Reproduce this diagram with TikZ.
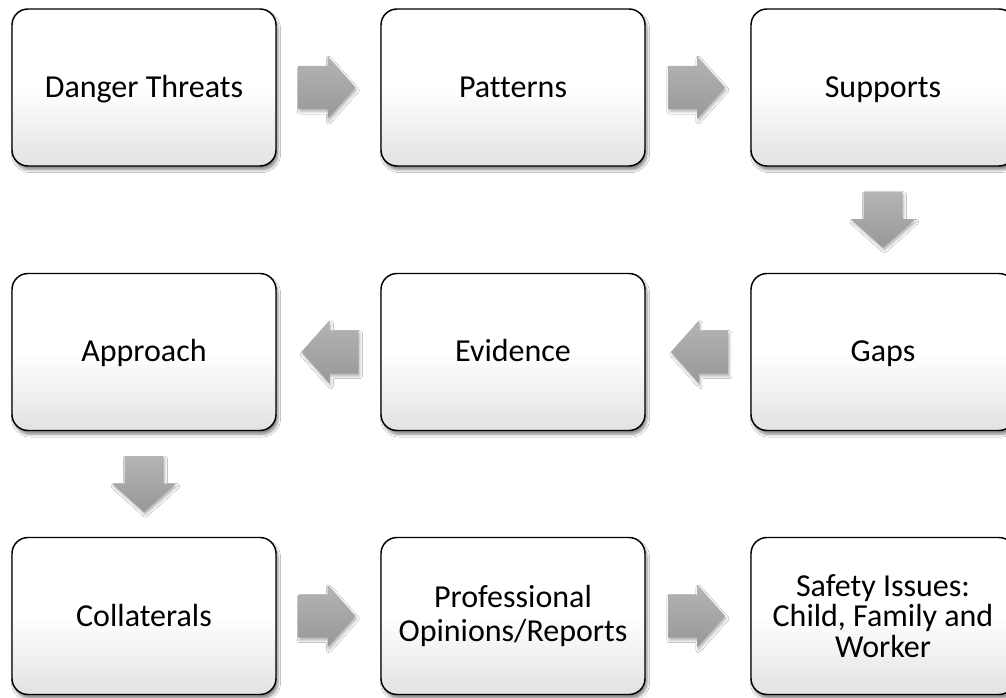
\documentclass[tikz,border=0pt]{standalone}
\usepackage{fontspec}
\setmainfont{Carlito}[Ligatures=CommonOff]
\usetikzlibrary{calc,shadows.blur}
\definecolor{arrtop}{HTML}{B4B4B4}
\definecolor{arrbot}{HTML}{989898}
\definecolor{boxbot}{HTML}{E2E2E2}
\tikzset{
  stepbox/.style={draw=black, line width=1.1pt, rounded corners=12pt,
    minimum width=198pt, minimum height=117.75pt, align=center,
    top color=white, bottom color=boxbot, middle color=white,
    font=\fontsize{24}{23}\selectfont,
    blur shadow={shadow xshift=1.5pt, shadow yshift=-3pt, shadow blur steps=6, shadow opacity=45}},
  oneline/.style={stepbox, text height=15.5pt, text depth=0.5pt},
  blockarr/.style={top color=arrtop, bottom color=arrbot, draw=none,
    blur shadow={shadow xshift=1pt, shadow yshift=-2pt, shadow blur steps=4, shadow opacity=30}},
  pics/rarr/.style={code={
    \path[blockarr] (-28,-21.5) -- (1,-21.5) -- (1,-31.5) -- (29,0) -- (1,31.5) -- (1,21.5) -- (-28,21.5) -- cycle;}},
  pics/larr/.style={code={
    \path[blockarr] (28,-21.5) -- (-1,-21.5) -- (-1,-31.5) -- (-29,0) -- (-1,31.5) -- (-1,21.5) -- (28,21.5) -- cycle;}},
  pics/darr/.style={code={
    \path[blockarr] (-19.5,-28) -- (19.5,-28) -- (19.5,-0.5) -- (32,-0.5) -- (0,28) -- (-32,-0.5) -- (-19.5,-0.5) -- cycle;}},
}
\begin{document}
\begin{tikzpicture}[x=0.75pt,y=-0.75pt]
\clip (0,0) rectangle (1006,698);
\fill[white] (0,0) rectangle (1006,698);
\node[oneline] (dt) at (144,87.5) {Danger Threats};
\node[oneline] (pa) at (513,87.5) {Patterns};
\node[oneline] (su) at (883,87.5) {Supports};
\node[oneline] (ga) at (883,352) {Gaps};
\node[oneline] (ev) at (513,352) {Evidence};
\node[oneline] (ap) at (144,352) {Approach};
\node[oneline] (co) at (144,616) {Collaterals};
\node[stepbox, font=\fontsize{24}{25}\selectfont] (po) at (513,616) {Professional\\Opinions/Reports};
\node[stepbox] (sa) at (883,616) {Safety Issues:\\Child, Family and\\Worker};
\coordinate (a1) at ($(dt.east)!0.5!(pa.west)$);
\coordinate (a2) at ($(pa.east)!0.5!(su.west)$);
\coordinate (a3) at ($(su.south)!0.5!(ga.north)$);
\coordinate (a4) at ($(ga.west)!0.5!(ev.east)$);
\coordinate (a5) at ($(ev.west)!0.5!(ap.east)$);
\coordinate (a6) at ($(ap.south)!0.5!(co.north)$);
\coordinate (a7) at ($(co.east)!0.5!(po.west)$);
\coordinate (a8) at ($(po.east)!0.5!(sa.west)$);
\pic at ($(a1)+(-2,0)$) {rarr};
\pic at ($(a2)+(-2,0)$) {rarr};
\pic at (a3) {darr};
\pic at ($(a4)+(2,0)$) {larr};
\pic at ($(a5)+(2,0)$) {larr};
\pic at (a6) {darr};
\pic at ($(a7)+(-2,0)$) {rarr};
\pic at ($(a8)+(-2,0)$) {rarr};
\end{tikzpicture}
\end{document}
